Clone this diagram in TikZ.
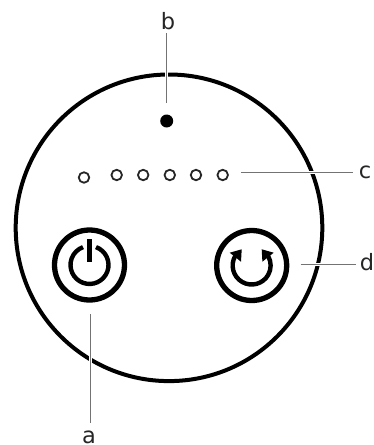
\documentclass[tikz,border=0pt]{standalone}
\usepackage{fontspec}
\setmainfont{DejaVu Sans}
\tikzset{
 x=1pt,y=-1pt,
 lbl/.style={inner sep=0pt,anchor=base,font=\fontsize{22.5}{24}\selectfont,text=black!85},
 leader/.style={draw=black!55,line width=1pt},
 led/.style={draw=black!85,line width=1.8pt,fill=white,circle,minimum size=10.5pt,inner sep=0pt},
 ring/.style={draw=black,line width=5.3pt,circle,minimum size=70pt,inner sep=0pt},
 glyph/.style={draw=black,line width=4.4pt},
}
\begin{document}
\begin{tikzpicture}
\useasboundingbox (0,0) rectangle (374,445);
\node[draw=black,line width=4pt,circle,minimum size=306.6pt,inner sep=0pt] (body) at (169,227.8) {};
\node[lbl] (a) at (89,443) {a};
\node[lbl] (b) at (168,29) {b};
\node[lbl] (c) at (365,178.5) {c};
\node[lbl] (d) at (367,270) {d};
\node[ring] (pw) at (89.5,265) {};
\node[ring] (rf) at (251.7,265.5) {};
\node[fill=black,circle,minimum size=13pt,inner sep=0pt] (dot) at (166.7,121) {};
\foreach \n/\x/\y in {l1/84/177.5,l2/116.7/175,l3/143.2/175,l4/169.8/175,l5/196/175,l6/222.7/175}
  \node[led] (\n) at (\x,\y) {};
\coordinate (a1) at (90,314);
\coordinate (a2) at (90,423);
\coordinate (b1) at (166.7,33);
\coordinate (b2) at (166.7,103);
\coordinate (c1) at (241,172.7);
\coordinate (c2) at (353,172.7);
\coordinate (d1) at (300.7,264);
\coordinate (d2) at (356,264);
\foreach \p/\q in {a1/a2,b1/b2,c1/c2,d1/d2}{
  \draw[white,line width=3pt,shorten >=8pt,shorten <=8pt] (\p) -- (\q);
  \draw[leader] (\p) -- (\q);
}
% power glyph
\draw[glyph] (96,247.1) arc [start angle=70,end angle=-250,radius=19pt];
\draw[glyph] (89.3,239) -- (89.3,262);
% refresh glyph
\draw[glyph] (235.2,256) arc [start angle=150,end angle=390,radius=19pt];
\fill[black] (229.7,252.7) -- (241.7,249.3) -- (241,261.7) -- cycle;
\fill[black] (273.7,252.7) -- (261.7,249.3) -- (262.4,261.7) -- cycle;
\end{tikzpicture}
\end{document}
